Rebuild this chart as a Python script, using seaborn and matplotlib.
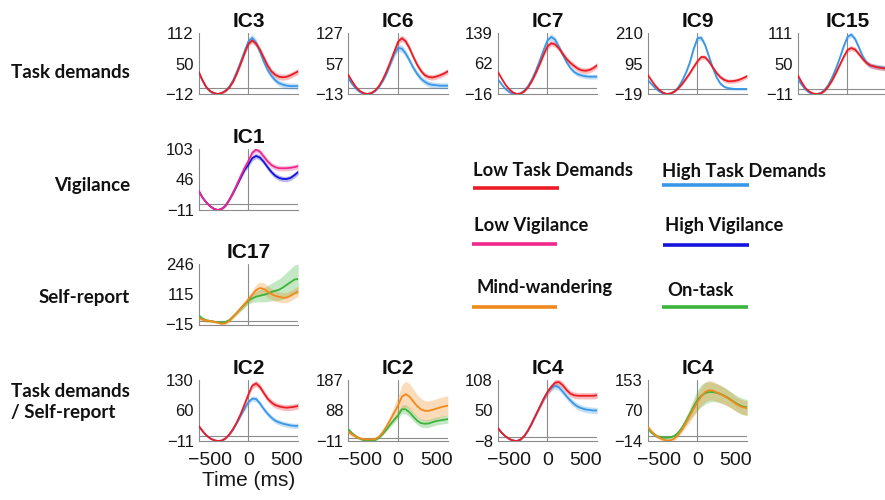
import matplotlib
matplotlib.use("Agg")
import numpy as np
import matplotlib.pyplot as plt
from matplotlib.lines import Line2D
import seaborn as sns

# ---------------------------------------------------------------- data
time_ms = list(range(-650, 651, 50))

# Task demands components (low = red, high = blue)
ic3_low = [33, 16, 2, -6, -10, -12, -10, -6, 1, 13, 30, 50, 71, 90, 97, 90, 78, 62, 46, 34, 27, 23, 22, 23, 26, 30, 34]
ic3_high = [32, 15, 1, -7, -11, -12, -10, -5, 3, 16, 34, 54, 75, 95, 102, 92, 74, 54, 37, 25, 16, 10, 7, 5, 4, 4, 4]
ic3_low_err = [2, 2, 2, 2, 2, 2, 2, 2, 2, 3, 3, 4, 4, 5, 6, 6, 6, 6, 6, 6, 6, 6, 6, 6, 6, 6, 6]
ic3_high_err = [3, 3, 3, 3, 3, 3, 3, 3, 3, 3, 4, 5, 6, 7, 8, 8, 7, 7, 6, 6, 6, 6, 6, 6, 6, 6, 6]

ic6_low = [31, 16, 3, -6, -11, -13, -11, -5, 5, 20, 39, 61, 84, 107, 115, 108, 92, 72, 54, 40, 30, 26, 25, 27, 30, 34, 39]
ic6_high = [23, 10, -1, -8, -12, -13, -11, -6, 3, 17, 34, 56, 78, 93, 91, 80, 64, 47, 33, 22, 15, 10, 8, 7, 6, 6, 6]
ic6_low_err = [2, 2, 2, 2, 2, 2, 2, 2, 3, 3, 4, 5, 6, 7, 7, 7, 7, 6, 6, 6, 6, 6, 6, 6, 6, 6, 6]
ic6_high_err = [3, 3, 3, 3, 3, 3, 3, 3, 3, 4, 5, 6, 7, 8, 8, 8, 7, 7, 7, 7, 7, 7, 7, 7, 7, 7, 7]

ic7_low = [41, 24, 8, -4, -12, -16, -15, -9, 2, 18, 38, 60, 84, 105, 113, 110, 100, 86, 73, 63, 55, 48, 44, 43, 45, 50, 57]
ic7_high = [22, 9, -3, -11, -15, -16, -14, -7, 5, 22, 44, 69, 96, 120, 129, 122, 104, 84, 65, 50, 40, 34, 31, 29, 28, 28, 28]
ic7_low_err = [2, 2, 2, 2, 2, 2, 2, 2, 3, 3, 4, 5, 6, 7, 7, 7, 7, 7, 7, 7, 7, 7, 7, 7, 7, 7, 7]
ic7_high_err = [3, 3, 3, 3, 3, 3, 3, 3, 3, 4, 5, 6, 7, 8, 8, 8, 7, 7, 6, 6, 6, 6, 6, 6, 6, 6, 6]

ic9_low = [53, 32, 12, -3, -14, -19, -17, -10, 2, 18, 38, 59, 82, 104, 120, 119, 103, 81, 60, 44, 34, 29, 29, 31, 35, 41, 48]
ic9_high = [34, 18, 3, -9, -16, -19, -17, -9, 6, 30, 61, 99, 150, 190, 192, 165, 122, 80, 43, 20, 8, 3, 1, 0, 0, 0, 0]
ic9_low_err = [3, 3, 3, 3, 3, 3, 3, 3, 3, 4, 5, 6, 7, 8, 8, 8, 8, 8, 8, 8, 8, 8, 8, 8, 8, 8, 8]
ic9_high_err = [4, 4, 4, 4, 4, 4, 4, 4, 4, 5, 6, 8, 9, 10, 10, 10, 9, 8, 7, 6, 5, 5, 5, 5, 5, 5, 5]

ic15_low = [27, 13, 1, -6, -10, -11, -10, -5, 4, 16, 31, 47, 63, 77, 81, 78, 69, 59, 51, 46, 44, 42, 41, 40, 39, 38, 37]
ic15_high = [20, 8, -2, -8, -11, -11, -9, -3, 7, 22, 40, 61, 84, 103, 108, 99, 82, 64, 52, 46, 44, 43, 42, 41, 40, 39, 38]
ic15_low_err = [2, 2, 2, 2, 2, 2, 2, 2, 2, 3, 3, 4, 4, 5, 5, 5, 5, 5, 5, 5, 5, 5, 5, 5, 5, 5, 5]
ic15_high_err = [2, 2, 2, 2, 2, 2, 2, 2, 2, 3, 3, 4, 5, 5, 5, 5, 5, 5, 5, 5, 5, 5, 5, 5, 5, 5, 5]

# Vigilance component (low = pink, high = dark blue)
ic1_low = [25, 12, 3, -4, -9, -11, -9, -3, 8, 22, 37, 53, 68, 81, 96, 102, 98, 89, 80, 73, 69, 67, 67, 67, 68, 69, 71]
ic1_high = [25, 12, 3, -4, -9, -11, -9, -3, 8, 21, 35, 50, 64, 74, 86, 90, 87, 79, 69, 60, 53, 49, 47, 47, 49, 54, 60]
ic1_low_err = [2, 2, 2, 2, 2, 2, 2, 2, 2, 3, 3, 4, 4, 5, 5, 5, 5, 5, 5, 5, 5, 5, 5, 5, 5, 5, 5]
ic1_high_err = [2, 2, 2, 2, 2, 2, 2, 2, 2, 3, 3, 4, 4, 5, 5, 5, 5, 5, 5, 5, 5, 5, 5, 5, 5, 5, 5]

# Self-report component (mind-wandering = orange, on-task = green)
ic17_mw = [13, 6, 2, 0, -3, -7, -12, -10, 0, 18, 36, 55, 73, 92, 112, 132, 141, 137, 126, 115, 108, 103, 100, 100, 108, 118, 127]
ic17_on = [23, 10, 3, 0, -3, -5, -6, -4, 4, 20, 36, 53, 70, 88, 97, 104, 108, 112, 117, 124, 129, 134, 143, 155, 166, 177, 180]
ic17_mw_err = [8, 8, 7, 6, 5, 5, 5, 5, 6, 8, 10, 12, 14, 17, 20, 24, 26, 26, 25, 24, 23, 22, 22, 22, 22, 22, 22]
ic17_on_err = [10, 8, 6, 5, 5, 4, 4, 4, 5, 6, 8, 10, 12, 15, 18, 22, 26, 30, 34, 38, 42, 46, 50, 54, 58, 62, 64]

# Components sensitive to both task demands and self-report
ic2_low = [24, 12, 2, -5, -9, -11, -10, -5, 4, 17, 33, 52, 74, 97, 117, 122, 114, 100, 87, 78, 72, 69, 67, 66, 67, 68, 70]
ic2_high = [24, 12, 2, -5, -9, -11, -10, -5, 4, 16, 31, 48, 64, 79, 87, 86, 76, 63, 52, 43, 36, 32, 29, 27, 25, 24, 24]
ic2_low_err = [2, 2, 2, 2, 2, 2, 2, 2, 2, 3, 3, 4, 5, 6, 7, 7, 7, 7, 7, 7, 7, 7, 7, 7, 7, 7, 7]
ic2_high_err = [2, 2, 2, 2, 2, 2, 2, 2, 2, 3, 3, 4, 5, 6, 6, 6, 6, 6, 6, 6, 6, 6, 6, 6, 6, 6, 6]

ic2_mw = [19, 10, 3, -2, -5, -6, -6, -5, 3, 17, 37, 58, 81, 104, 133, 141, 133, 117, 102, 92, 87, 87, 90, 94, 98, 101, 104]
ic2_on = [27, 14, 4, -3, -8, -10, -11, -8, 0, 12, 27, 43, 58, 72, 92, 92, 82, 68, 55, 47, 45, 46, 50, 54, 56, 58, 60]
ic2_mw_err = [8, 7, 6, 5, 5, 5, 5, 5, 6, 8, 12, 16, 22, 30, 38, 42, 42, 40, 37, 35, 33, 32, 32, 32, 32, 32, 32]
ic2_on_err = [6, 5, 4, 4, 4, 4, 4, 4, 4, 5, 6, 8, 10, 12, 14, 15, 15, 14, 13, 13, 13, 13, 13, 13, 13, 13, 13]

ic4_low = [17, 8, 1, -4, -7, -8, -5, 2, 13, 27, 42, 57, 72, 85, 95, 103, 104, 98, 89, 82, 79, 78, 78, 78, 78, 78, 79]
ic4_high = [17, 8, 1, -4, -7, -8, -5, 2, 13, 27, 42, 57, 72, 85, 93, 97, 94, 86, 77, 69, 62, 57, 54, 52, 51, 50, 50]
ic4_low_err = [2, 2, 2, 2, 2, 2, 2, 2, 2, 3, 3, 4, 5, 6, 6, 6, 6, 6, 6, 6, 6, 6, 6, 6, 6, 6, 6]
ic4_high_err = [2, 2, 2, 2, 2, 2, 2, 2, 2, 3, 3, 4, 5, 6, 6, 6, 6, 6, 6, 6, 6, 6, 6, 6, 6, 6, 6]

ic4_mw = [25, 12, 2, -5, -10, -13, -12, -7, 3, 18, 36, 55, 74, 92, 108, 120, 125, 124, 119, 114, 109, 103, 96, 88, 82, 78, 76]
ic4_on = [20, 9, 1, -3, -5, -5, -4, 0, 9, 23, 41, 60, 80, 98, 110, 117, 120, 120, 118, 115, 110, 104, 97, 90, 84, 80, 78]
ic4_mw_err = [6, 5, 5, 5, 5, 5, 5, 5, 6, 8, 12, 16, 20, 24, 26, 27, 27, 26, 25, 24, 23, 22, 21, 20, 20, 20, 20]
ic4_on_err = [6, 5, 5, 5, 5, 5, 5, 5, 6, 8, 12, 16, 22, 28, 30, 30, 28, 26, 25, 24, 23, 22, 22, 22, 22, 22, 22]

# y-axis ticks (min, middle, max) per panel
ic3_yticks = [-12, 50, 112]
ic6_yticks = [-13, 57, 127]
ic7_yticks = [-16, 62, 139]
ic9_yticks = [-19, 95, 210]
ic15_yticks = [-11, 50, 111]
ic1_yticks = [-11, 46, 103]
ic17_yticks = [-15, 115, 246]
ic2a_yticks = [-11, 60, 130]
ic2b_yticks = [-11, 88, 187]
ic4a_yticks = [-8, 50, 108]
ic4b_yticks = [-14, 70, 153]

x_ticks = [-500, 0, 500]

row_labels = ["Task demands", "Vigilance", "Self-report", "Task demands\n/ Self-report"]
legend_labels = ["Low Task Demands", "High Task Demands", "Low Vigilance",
                 "High Vigilance", "Mind-wandering", "On-task"]

# ---------------------------------------------------------------- style
C_LOW_TASK = "#EC1C24"
C_HIGH_TASK = "#3A97E8"
C_LOW_VIG = "#F0288C"
C_HIGH_VIG = "#1414DC"
C_MW = "#F08A1C"
C_ON = "#3CB43C"
GRID_GREY = "#8C8C8C"
TEXT = "#161616"

sns.set_theme(style="white")
plt.rcParams["font.family"] = ["Liberation Sans", "DejaVu Sans"]
plt.rcParams["axes.unicode_minus"] = True

W, H = 885, 500
fig = plt.figure(figsize=(W / 100, H / 100), dpi=100)
fig.patch.set_facecolor("white")


def rect(x_left, y_top, w=99.5, h=61):
    return [x_left / W, 1 - (y_top + h) / H, w / W, h / H]


def fmt(v):
    return f"{v:d}".replace("-", "\u2212")


col_x = [198.7, 348.3, 497.7, 647.7, 797.7]
row_y = [33, 149, 263.5, 380]

panels = [
    (0, 0, "IC3", ic3_yticks, [(ic3_high, ic3_high_err, C_HIGH_TASK), (ic3_low, ic3_low_err, C_LOW_TASK)]),
    (1, 0, "IC6", ic6_yticks, [(ic6_high, ic6_high_err, C_HIGH_TASK), (ic6_low, ic6_low_err, C_LOW_TASK)]),
    (2, 0, "IC7", ic7_yticks, [(ic7_high, ic7_high_err, C_HIGH_TASK), (ic7_low, ic7_low_err, C_LOW_TASK)]),
    (3, 0, "IC9", ic9_yticks, [(ic9_high, ic9_high_err, C_HIGH_TASK), (ic9_low, ic9_low_err, C_LOW_TASK)]),
    (4, 0, "IC15", ic15_yticks, [(ic15_high, ic15_high_err, C_HIGH_TASK), (ic15_low, ic15_low_err, C_LOW_TASK)]),
    (0, 1, "IC1", ic1_yticks, [(ic1_high, ic1_high_err, C_HIGH_VIG), (ic1_low, ic1_low_err, C_LOW_VIG)]),
    (0, 2, "IC17", ic17_yticks, [(ic17_on, ic17_on_err, C_ON), (ic17_mw, ic17_mw_err, C_MW)]),
    (0, 3, "IC2", ic2a_yticks, [(ic2_high, ic2_high_err, C_HIGH_TASK), (ic2_low, ic2_low_err, C_LOW_TASK)]),
    (1, 3, "IC2", ic2b_yticks, [(ic2_on, ic2_on_err, C_ON), (ic2_mw, ic2_mw_err, C_MW)]),
    (2, 3, "IC4", ic4a_yticks, [(ic4_high, ic4_high_err, C_HIGH_TASK), (ic4_low, ic4_low_err, C_LOW_TASK)]),
    (3, 3, "IC4", ic4b_yticks, [(ic4_on, ic4_on_err, C_ON), (ic4_mw, ic4_mw_err, C_MW)]),
]

t = np.asarray(time_ms, dtype=float)
for col, row, title, yticks, series in panels:
    ax = fig.add_axes(rect(col_x[col], row_y[row]))
    ax.set_facecolor("white")
    for vals, err, color in series:
        v = np.asarray(vals, dtype=float)
        e = np.asarray(err, dtype=float)
        ax.fill_between(t, v - e, v + e, color=color, alpha=0.3, lw=0, zorder=2)
        sns.lineplot(x=time_ms, y=vals, ax=ax, color=color, linewidth=1.3, zorder=3)
    ax.axhline(0, color=GRID_GREY, lw=0.8, zorder=1)
    ax.axvline(0, color=GRID_GREY, lw=0.8, zorder=1)
    ax.set_xlim(-650, 650)
    ax.set_ylim(yticks[0], yticks[-1])
    ax.set_yticks(yticks)
    ax.set_yticklabels([fmt(v) for v in yticks])
    ax.set_xticks(x_ticks)
    ax.tick_params(axis="y", length=0, pad=3.5, labelsize=12, colors=TEXT)
    ax.tick_params(axis="x", length=0, pad=8, labelsize=14, colors=TEXT)
    if row != 3:
        ax.set_xticklabels([])
    else:
        ax.set_xticklabels([fmt(v) for v in x_ticks])
    ax.set_xlabel("")
    ax.set_ylabel("")
    for side in ("top", "right"):
        ax.spines[side].set_visible(False)
    for side in ("left", "bottom"):
        ax.spines[side].set_color(GRID_GREY)
        ax.spines[side].set_linewidth(0.8)
    ax.set_title(title, fontsize=15, fontweight="bold", pad=4, color="#0E0E0E")
    if row == 3 and col == 0:
        ax.set_xlabel("Time (ms)", fontsize=15, labelpad=1, color=TEXT)

# row labels
label_font = ["Lato", "DejaVu Sans"]
row_label_y = [73, 185, 297, 402]
for text, y in zip(row_labels, row_label_y):
    fig.text(130 / W, 1 - y / H, text, ha="right", va="center", multialignment="left",
             fontsize=13.5, fontweight="bold", family=label_font, linespacing=1.3,
             color="#111111")

# legend: label text above a coloured line
legend_colors = [C_LOW_TASK, C_HIGH_TASK, C_LOW_VIG, C_HIGH_VIG, C_MW, C_ON]
legend_text_xy = [(473, 176.5), (662, 176.5), (474, 230.5), (665, 230.5), (476, 292.5), (667, 295.5)]
legend_line = [(472.7, 559, 187.7), (662.3, 748.7, 185), (471.7, 557.3, 244.3),
               (662.7, 748.7, 244.7), (471.7, 557.3, 306.7), (662.3, 748.3, 306.7)]
for label, color, (tx, ty), (x0, x1, ly) in zip(legend_labels, legend_colors, legend_text_xy, legend_line):
    fig.text(tx / W, 1 - ty / H, label, ha="left", va="baseline", fontsize=13.2,
             fontweight="bold", family=label_font, color="#111111")
    fig.add_artist(Line2D([x0 / W, x1 / W], [1 - ly / H, 1 - ly / H], color=color,
                          lw=2.6, transform=fig.transFigure, solid_capstyle="butt"))

fig.savefig("out.png", dpi=100, facecolor="white")
